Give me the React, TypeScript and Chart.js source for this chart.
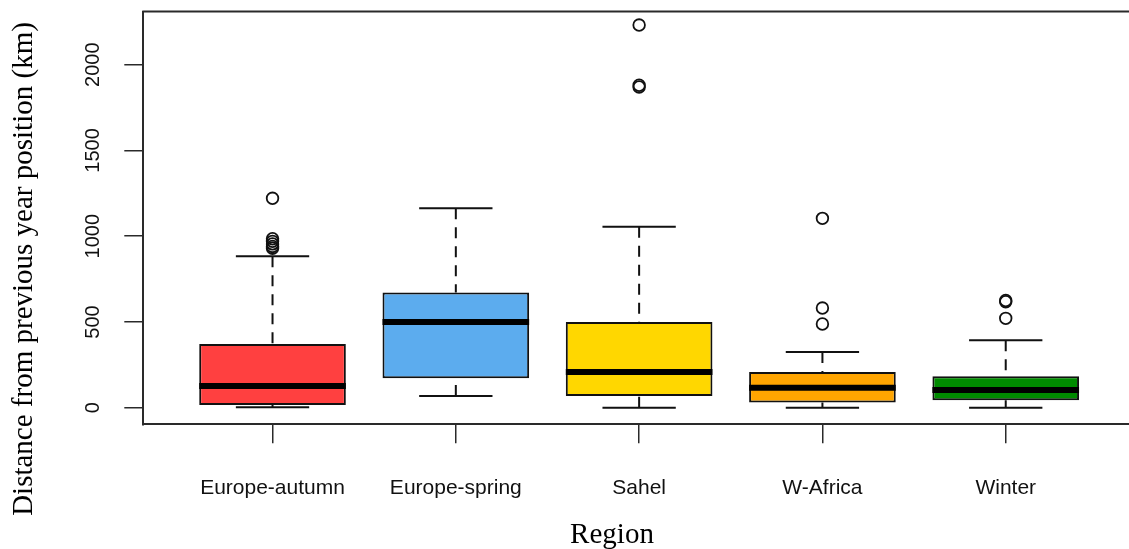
import React, { useEffect, useRef } from 'react';
import { Chart, registerables } from 'chart.js';

Chart.register(...registerables);

// ---- Data ----
const categories = ['Europe-autumn', 'Europe-spring', 'Sahel', 'W-Africa', 'Winter'];
const categoryPositions = [1, 2, 3, 4, 5];
const whiskerLow = [3, 68, 0, 0, 0];
const q1Values = [15, 171, 68, 31, 43];
const medianValues = [127, 500, 208, 117, 103];
const q3Values = [371, 671, 500, 208, 183];
const whiskerHigh = [883, 1163, 1055, 325, 393];
const outliersEuropeAutumn = [1221, 985, 970, 955, 940, 930];
const outliersEuropeSpring: number[] = [];
const outliersSahel = [2231, 1880, 1870];
const outliersWAfrica = [1104, 581, 488];
const outliersWinter = [625, 618, 521];
const yTickValues = [0, 500, 1000, 1500, 2000];

const outlierGroups = [outliersEuropeAutumn, outliersEuropeSpring, outliersSahel, outliersWAfrica, outliersWinter];

// ---- Styles ----
const boxColors = ['#FF4040', '#5CACEE', '#FFD700', '#FFA500', '#008B00'];
const INK = '#111111';
const FRAME = '#2a2a2a';
const CAP_HALF = 0.2; // staple half-width in category units

const zeroPadding = (s: any) => {
  s.paddingTop = 0;
  s.paddingBottom = 0;
  s.paddingLeft = 0;
  s.paddingRight = 0;
};

export default function App() {
  const canvasRef = useRef<HTMLCanvasElement | null>(null);

  useEffect(() => {
    const canvas = canvasRef.current;
    if (!canvas) return;

    const boxPartsPlugin = {
      id: 'boxParts',
      beforeDatasetsDraw(chart: any) {
        const { ctx } = chart;
        const xs = chart.scales.x;
        const ys = chart.scales.y;
        ctx.save();
        ctx.strokeStyle = INK;
        ctx.lineWidth = 2;
        categoryPositions.forEach((p, i) => {
          const cx = xs.getPixelForValue(p);
          const capL = xs.getPixelForValue(p - CAP_HALF);
          const capR = xs.getPixelForValue(p + CAP_HALF);
          ctx.setLineDash([11, 8]);
          ctx.beginPath();
          ctx.moveTo(cx, ys.getPixelForValue(whiskerHigh[i]));
          ctx.lineTo(cx, ys.getPixelForValue(q3Values[i]));
          ctx.moveTo(cx, ys.getPixelForValue(whiskerLow[i]));
          ctx.lineTo(cx, ys.getPixelForValue(q1Values[i]));
          ctx.stroke();
          ctx.setLineDash([]);
          ctx.beginPath();
          const yh = ys.getPixelForValue(whiskerHigh[i]);
          const yl = ys.getPixelForValue(whiskerLow[i]);
          ctx.moveTo(capL, yh);
          ctx.lineTo(capR, yh);
          ctx.moveTo(capL, yl);
          ctx.lineTo(capR, yl);
          ctx.stroke();
        });
        ctx.restore();
      },
      afterDatasetsDraw(chart: any) {
        const { ctx } = chart;
        const ys = chart.scales.y;
        const meta = chart.getDatasetMeta(0);
        ctx.save();
        ctx.strokeStyle = '#000';
        ctx.lineWidth = 6;
        ctx.lineCap = 'butt';
        meta.data.forEach((bar: any, i: number) => {
          const { x, width } = bar.getProps(['x', 'width'], true);
          const y = ys.getPixelForValue(medianValues[i]);
          ctx.beginPath();
          ctx.moveTo(x - width / 2, y);
          ctx.lineTo(x + width / 2, y);
          ctx.stroke();
        });
        ctx.restore();
      },
      afterDraw(chart: any) {
        const { ctx, chartArea } = chart;
        ctx.save();
        // top frame line
        ctx.strokeStyle = FRAME;
        ctx.lineWidth = 2;
        ctx.beginPath();
        ctx.moveTo(chartArea.left - 1, chartArea.top);
        ctx.lineTo(chartArea.right, chartArea.top);
        ctx.stroke();
        // axis titles
        ctx.fillStyle = '#000';
        ctx.font = '29px "Liberation Serif", "Times New Roman", serif';
        ctx.textAlign = 'center';
        ctx.textBaseline = 'alphabetic';
        ctx.fillText('Region', 612, 543);
        ctx.translate(32, 269);
        ctx.rotate(-Math.PI / 2);
        ctx.fillText('Distance from previous year position (km)', 0, 0);
        ctx.restore();
      },
    };

    const outlierPoints: { x: number; y: number }[] = [];
    outlierGroups.forEach((group, i) => {
      group.forEach((v) => outlierPoints.push({ x: categoryPositions[i], y: v }));
    });

    const chart = new Chart(canvas, {
      type: 'bar',
      data: {
        datasets: [
          {
            type: 'bar',
            data: categoryPositions.map((x, i) => ({ x, y: [q1Values[i], q3Values[i]] })) as any,
            backgroundColor: boxColors,
            borderColor: INK,
            borderWidth: 2,
            borderSkipped: false,
            barPercentage: 0.8,
            categoryPercentage: 1,
          } as any,
          {
            type: 'scatter',
            data: outlierPoints as any,
            pointStyle: 'circle',
            pointRadius: 5.8,
            pointBorderWidth: 1.8,
            borderColor: INK,
            backgroundColor: 'rgba(0,0,0,0)',
            showLine: false,
            clip: false,
          } as any,
        ],
      },
      options: {
        animation: false,
        responsive: false,
        devicePixelRatio: 1,
        layout: { autoPadding: false, padding: { top: 11.5, right: 0, left: 0, bottom: 0 } },
        plugins: {
          legend: { display: false },
          tooltip: { enabled: false },
          title: { display: false },
        },
        scales: {
          x: {
            type: 'linear',
            min: 0.295,
            max: 5.6725,
            offset: false,
            afterBuildTicks: (s: any) => {
              s.ticks = categoryPositions.map((v) => ({ value: v }));
            },
            afterFit: (s: any) => {
              s.height = 124.7;
              zeroPadding(s);
            },
            grid: { drawOnChartArea: false, drawTicks: true, tickLength: 19, color: FRAME, lineWidth: 1.5, offset: false },
            border: { display: true, color: FRAME, width: 2 },
            ticks: {
              callback: (v: any) => categories[Number(v) - 1] ?? '',
              font: { family: '"Liberation Sans", Arial, sans-serif', size: 21 },
              color: INK,
              padding: 32,
              minRotation: 0,
              maxRotation: 0,
              autoSkip: false,
            },
          },
          y: {
            type: 'linear',
            min: -96.8,
            max: 2310,
            afterBuildTicks: (s: any) => {
              s.ticks = yTickValues.map((v) => ({ value: v }));
            },
            afterFit: (s: any) => {
              s.width = 143.3;
              zeroPadding(s);
            },
            grid: { drawOnChartArea: false, drawTicks: true, tickLength: 19, color: FRAME, lineWidth: 1.5 },
            border: { display: true, color: FRAME, width: 2 },
            ticks: {
              minRotation: 90,
              maxRotation: 90,
              crossAlign: 'center',
              padding: 9,
              font: { family: '"Liberation Sans", Arial, sans-serif', size: 20 },
              color: INK,
              callback: (v: any) => String(v),
              autoSkip: false,
            },
          },
        },
      } as any,
      plugins: [boxPartsPlugin],
    });

    return () => chart.destroy();
  }, []);

  return (
    <div style={{ position: 'absolute', left: 0, top: 0, width: 1129, height: 549, background: '#fff' }}>
      <canvas ref={canvasRef} width={1129} height={549} style={{ width: 1129, height: 549, display: 'block' }} />
    </div>
  );
}
